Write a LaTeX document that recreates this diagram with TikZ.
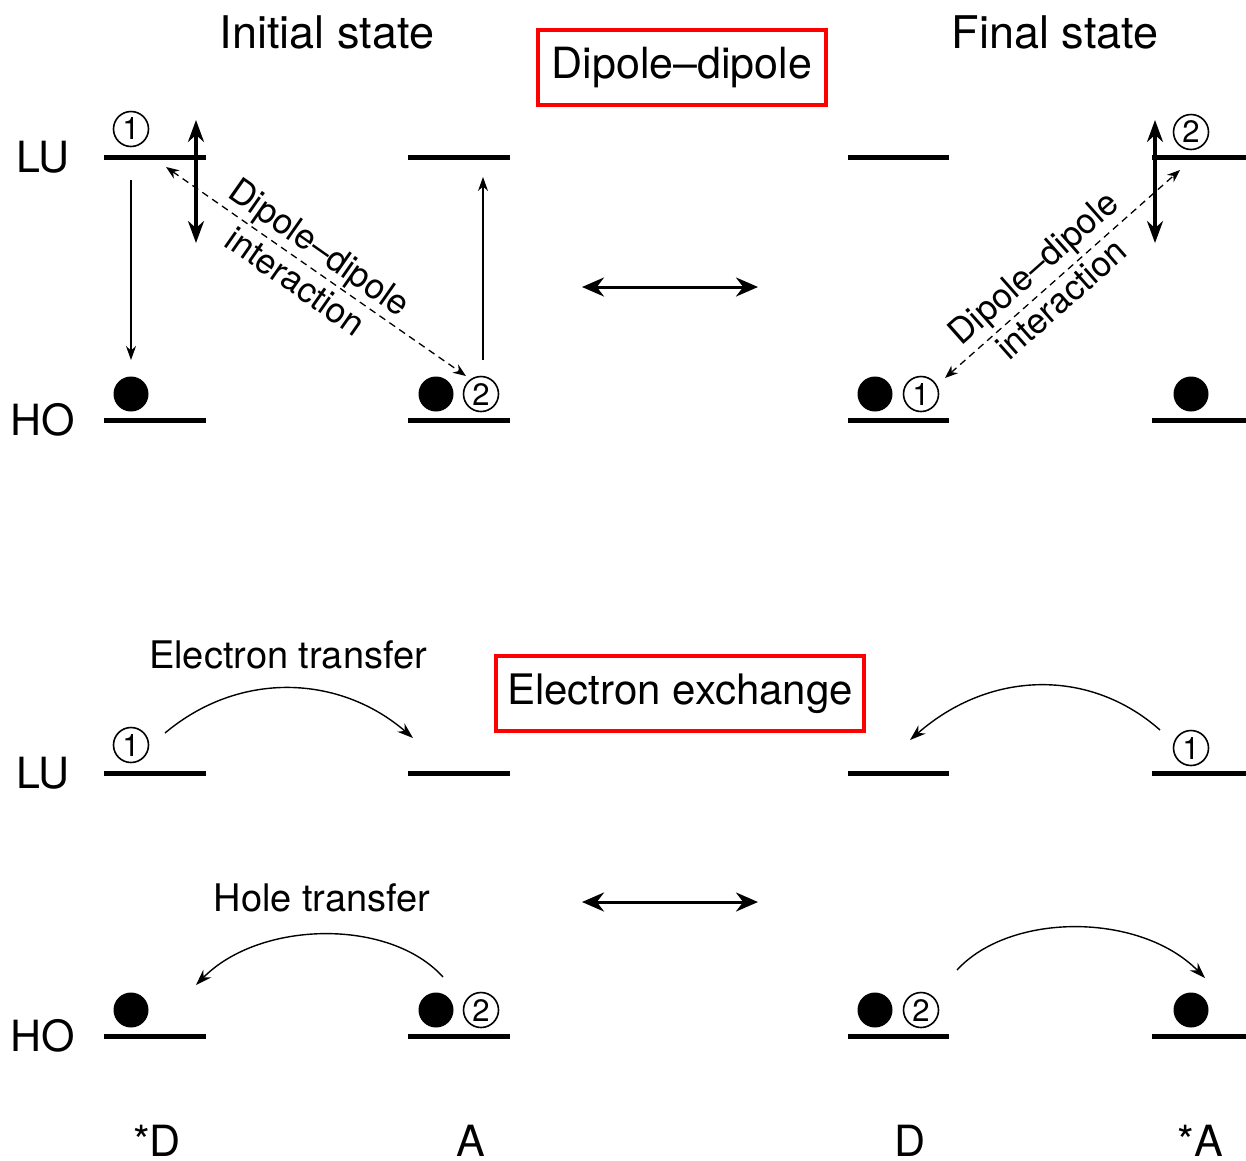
\documentclass[tikz,border=0pt]{standalone}
\usepackage{fontspec}
\setmainfont{TeX Gyre Heros}
\usetikzlibrary{arrows.meta}
\begin{document}
\begin{tikzpicture}[x=1pt,y=-1pt,
  level/.style={line width=5pt},
  ball/.style={circle, fill=black, minimum size=35pt, inner sep=0pt},
  num/.style={circle, draw, line width=1.6pt, minimum size=35pt, inner sep=0pt, font=\fontsize{31}{31}\selectfont},
  lbl/.style={inner sep=0pt, font=\fontsize{43}{50}\selectfont},
  title/.style={inner sep=0pt, font=\fontsize{45}{52}\selectfont},
  sublbl/.style={inner sep=0pt, font=\fontsize{38}{45}\selectfont},
  rlbl/.style={inner sep=0pt, align=center, font=\fontsize{35}{42}\selectfont},
  redbox/.style={draw=red, line width=4pt, minimum height=75pt, inner sep=0pt},
  thinarrow/.style={line width=1.4pt, -{Stealth[length=14pt,width=10pt]}},
  thickarrow/.style={line width=3.5pt, {Stealth[length=22pt,width=16pt]}-{Stealth[length=22pt,width=16pt]}},
  dasharrow/.style={line width=1.3pt, dash pattern=on 7pt off 5pt, {Stealth[length=13pt,width=10pt]}-{Stealth[length=13pt,width=10pt]}},
  xchg/.style={line width=3pt, {Stealth[length=22pt,width=19pt]}-{Stealth[length=22pt,width=19pt]}},
  curvearrow/.style={line width=1.4pt, -{Stealth[length=16pt,width=11pt]}}
]
\useasboundingbox (0,0) rectangle (1246,1160);

% titles
\node[title] (init) at (327,32) {Initial state};
\node[title] (fin) at (1055,32) {Final state};
\node[redbox, minimum width=288pt, font=\fontsize{43}{50}\selectfont] (dd) at (682,67.5) {Dipole–dipole};
\node[redbox, minimum width=368pt, font=\fontsize{42}{49}\selectfont] (ee) at (680,693.5) {Electron exchange};

% side labels
\node[lbl] (lu1) at (43,157) {LU};
\node[lbl] (ho1) at (43,420) {HO};
\node[lbl] (lu2) at (43,773) {LU};
\node[lbl] (ho2) at (43,1036) {HO};

% bottom labels
\node[lbl, anchor=base] (sD) at (157,1156) {*D};
\node[lbl, anchor=base] (A) at (471,1156) {A};
\node[lbl, anchor=base] (D) at (910,1156) {D};
\node[lbl, anchor=base] (sA) at (1200,1156) {*A};

% ---------- levels ----------
\foreach \y in {157,420,773,1036} {
  \draw[level] (104,\y) -- (206,\y);
  \draw[level] (408,\y) -- (510,\y);
  \draw[level] (848,\y) -- (949,\y);
  \draw[level] (1152,\y) -- (1246,\y);
}

% ---------- top initial ----------
\node[num] (n1a) at (131,129) {1};
\node[ball] (b1) at (131,394) {};
\node[ball] (b2) at (436,394) {};
\node[num] (n2a) at (481,394) {2};
\coordinate (dnA) at (131,180);
\coordinate (dnB) at (131,360);
\draw[thinarrow] (dnA) -- (dnB);
\coordinate (upA) at (483,360);
\coordinate (upB) at (483,177);
\draw[thinarrow] (upA) -- (upB);
\coordinate (vA) at (196,120);
\coordinate (vB) at (196,243);
\draw[thickarrow] (vA) -- (vB);
\coordinate (dlA) at (166,167);
\coordinate (dlB) at (466,376);
\draw[dasharrow] (dlA) -- (dlB);
\node[rlbl, rotate=-35] (ddl) at (308,264) {Dipole–dipole\\interaction};

% middle arrows
\coordinate (m1a) at (582,287);
\coordinate (m1b) at (758,287);
\draw[xchg] (m1a) -- (m1b);
\coordinate (m2a) at (582,902);
\coordinate (m2b) at (758,902);
\draw[xchg] (m2a) -- (m2b);

% ---------- top final ----------
\node[num] (n2b) at (1191,132) {2};
\node[ball] (b3) at (875,394) {};
\node[num] (n1b) at (921,394) {1};
\node[ball] (b4) at (1191,394) {};
\coordinate (vC) at (1155,120);
\coordinate (vD) at (1155,243);
\draw[thickarrow] (vC) -- (vD);
\coordinate (drA) at (945,378);
\coordinate (drB) at (1180,170);
\draw[dasharrow] (drA) -- (drB);
\node[rlbl, rotate=41.5] (ddr) at (1047,283) {Dipole–dipole\\interaction};

% ---------- bottom initial ----------
\node[sublbl] (et) at (288,655) {Electron transfer};
\node[sublbl] (ht) at (322,898) {Hole transfer};
\node[num] (n1c) at (131,745) {1};
\node[ball] (b5) at (131,1010) {};
\node[ball] (b6) at (436,1010) {};
\node[num] (n2c) at (481,1010) {2};
\coordinate (eA) at (165,733);
\coordinate (eB) at (413,738);
\draw[curvearrow] (eA) .. controls (240,670) and (340,675) .. (eB);
\coordinate (hA) at (443,977);
\coordinate (hB) at (196,985);
\draw[curvearrow] (hA) .. controls (390,918) and (260,920) .. (hB);

% ---------- bottom final ----------
\node[num] (n1d) at (1191,748) {1};
\node[ball] (b7) at (875,1010) {};
\node[num] (n2d) at (921,1010) {2};
\node[ball] (b8) at (1191,1010) {};
\coordinate (fA) at (1160,730);
\coordinate (fB) at (910,740);
\draw[curvearrow] (fA) .. controls (1090,668) and (990,670) .. (fB);
\coordinate (gA) at (957,970);
\coordinate (gB) at (1205,978);
\draw[curvearrow] (gA) .. controls (1010,912) and (1140,912) .. (gB);
\end{tikzpicture}
\end{document}
